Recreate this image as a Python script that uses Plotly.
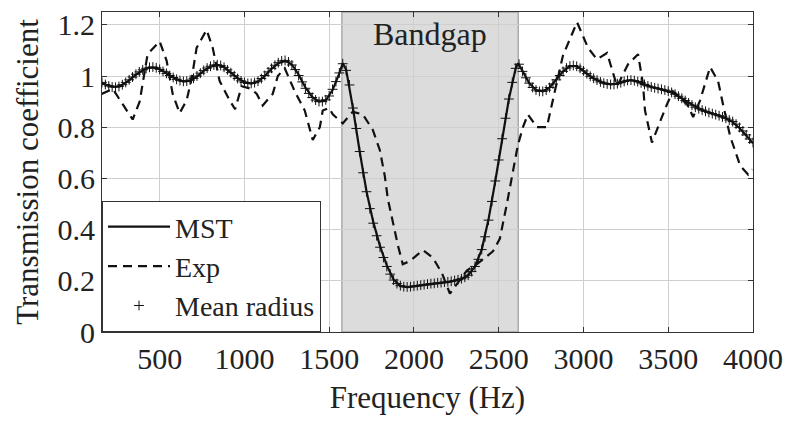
import plotly.graph_objects as go

# ---------------- data ----------------
freq_grid = [160, 200, 240, 280, 320, 360, 400, 440, 480, 520, 560, 600, 640, 680, 720,
             760, 800, 840, 880, 920, 960, 1000, 1040, 1080, 1120, 1160, 1200, 1240, 1280,
             1320, 1360, 1400, 1440, 1480, 1520, 1560, 1580, 1600, 1640, 1680, 1720, 1760,
             1800, 1840, 1880, 1920, 1960, 2000, 2040, 2080, 2120, 2160, 2200, 2240, 2280,
             2320, 2360, 2400, 2440, 2480, 2520, 2560, 2600, 2615, 2640, 2680, 2720, 2760,
             2800, 2840, 2880, 2920, 2960, 3000, 3040, 3080, 3120, 3160, 3200, 3240, 3280,
             3320, 3360, 3400, 3440, 3480, 3520, 3560, 3600, 3640, 3680, 3720, 3760, 3800,
             3840, 3880, 3920, 3960, 4000]

mst = [0.972, 0.962, 0.958, 0.965, 0.983, 1.005, 1.022, 1.033, 1.032, 1.020, 1.003, 0.988,
       0.978, 0.982, 0.998, 1.020, 1.036, 1.043, 1.035, 1.015, 0.992, 0.976, 0.970, 0.978,
       1.000, 1.028, 1.050, 1.060, 1.045, 1.005, 0.955, 0.918, 0.900, 0.905, 0.945, 1.010,
       1.050, 1.025, 0.875, 0.705, 0.550, 0.430, 0.335, 0.260, 0.205, 0.180, 0.175, 0.178,
       0.182, 0.186, 0.190, 0.192, 0.195, 0.200, 0.206, 0.222, 0.256, 0.322, 0.440, 0.590,
       0.757, 0.910, 1.030, 1.050, 1.020, 0.972, 0.945, 0.940, 0.955, 0.985, 1.018, 1.039,
       1.038, 1.020, 0.999, 0.984, 0.972, 0.967, 0.970, 0.979, 0.984, 0.978, 0.967, 0.957,
       0.951, 0.945, 0.936, 0.921, 0.904, 0.886, 0.872, 0.862, 0.853, 0.845, 0.835, 0.820,
       0.797, 0.768, 0.737]

radius_freq = [160, 180, 200, 220, 240, 260, 280, 300, 320, 340, 360, 380, 400, 420, 440,
               460, 480, 500, 520, 540, 560, 580, 600, 620, 640, 660, 680, 700, 720, 740,
               760, 780, 800, 820, 840, 860, 880, 900, 920, 940, 960, 980, 1000, 1020, 1040,
               1060, 1080, 1100, 1120, 1140, 1160, 1180, 1200, 1220, 1240, 1260, 1280, 1300,
               1320, 1340, 1360, 1380, 1400, 1420, 1440, 1460, 1480, 1500, 1520, 1540, 1560,
               1580, 1600, 1620, 1640, 1660, 1680, 1700, 1720, 1740, 1760, 1780, 1800, 1820,
               1840, 1860, 1880, 1900, 1920, 1940, 1960, 1980, 2000, 2020, 2040, 2060, 2080,
               2100, 2120, 2140, 2160, 2180, 2200, 2220, 2240, 2260, 2280, 2300, 2320, 2340,
               2360, 2380, 2400, 2420, 2440, 2460, 2480, 2500, 2520, 2540, 2560, 2580, 2600,
               2620, 2640, 2660, 2680, 2700, 2720, 2740, 2760, 2780, 2800, 2820, 2840, 2860,
               2880, 2900, 2920, 2940, 2960, 2980, 3000, 3020, 3040, 3060, 3080, 3100, 3120,
               3140, 3160, 3180, 3200, 3220, 3240, 3260, 3280, 3300, 3320, 3340, 3360, 3380,
               3400, 3420, 3440, 3460, 3480, 3500, 3520, 3540, 3560, 3580, 3600, 3620, 3640,
               3660, 3680, 3700, 3720, 3740, 3760, 3780, 3800, 3820, 3840, 3860, 3880, 3900,
               3920, 3940, 3960, 3980, 4000]

mean_radius = [0.975, 0.967, 0.961, 0.957, 0.956, 0.959, 0.966, 0.975, 0.985, 0.996, 1.007,
               1.016, 1.024, 1.030, 1.034, 1.035, 1.032, 1.026, 1.018, 1.010, 1.002, 0.994,
               0.987, 0.982, 0.979, 0.980, 0.984, 0.991, 1.000, 1.011, 1.022, 1.031, 1.038,
               1.043, 1.044, 1.041, 1.034, 1.024, 1.013, 1.001, 0.990, 0.981, 0.975, 0.971,
               0.971, 0.974, 0.980, 0.990, 1.002, 1.016, 1.030, 1.042, 1.052, 1.059, 1.061,
               1.055, 1.043, 1.025, 1.002, 0.977, 0.952, 0.932, 0.916, 0.906, 0.900, 0.900,
               0.907, 0.922, 0.948, 0.978, 1.012, 1.048, 1.022, 0.965, 0.875, 0.795, 0.705,
               0.622, 0.548, 0.482, 0.425, 0.376, 0.331, 0.291, 0.256, 0.226, 0.203, 0.189,
               0.181, 0.177, 0.176, 0.177, 0.179, 0.181, 0.183, 0.185, 0.187, 0.189, 0.190,
               0.192, 0.193, 0.195, 0.196, 0.198, 0.201, 0.204, 0.208, 0.214, 0.222, 0.236,
               0.256, 0.284, 0.322, 0.372, 0.437, 0.510, 0.590, 0.672, 0.755, 0.835, 0.910,
               0.975, 1.030, 1.046, 1.018, 0.993, 0.972, 0.955, 0.945, 0.940, 0.940, 0.945,
               0.955, 0.969, 0.985, 1.002, 1.018, 1.031, 1.039, 1.041, 1.038, 1.030, 1.020,
               1.009, 0.999, 0.991, 0.984, 0.977, 0.972, 0.969, 0.967, 0.967, 0.970, 0.974,
               0.979, 0.983, 0.984, 0.982, 0.978, 0.973, 0.967, 0.961, 0.957, 0.954, 0.951,
               0.948, 0.945, 0.941, 0.936, 0.929, 0.921, 0.913, 0.904, 0.895, 0.886, 0.878,
               0.872, 0.867, 0.862, 0.857, 0.853, 0.849, 0.845, 0.840, 0.835, 0.828, 0.822,
               0.812, 0.799, 0.785, 0.770, 0.754, 0.740]

exp_freq = [158, 223, 282, 341, 382, 400, 429, 500, 541, 577, 618, 659, 689, 718, 777, 813,
            854, 913, 945, 984, 1040, 1073, 1108, 1167, 1197, 1238, 1297, 1356, 1403, 1445,
            1462, 1500, 1521, 1580, 1639, 1698, 1757, 1799, 1828, 1846, 1875, 1905, 1934,
            1976, 2053, 2112, 2165, 2212, 2312, 2371, 2466, 2507, 2548, 2584, 2613, 2643,
            2672, 2725, 2784, 2814, 2879, 2962, 3027, 3080, 3139, 3198, 3263, 3322, 3351,
            3363, 3404, 3463, 3493, 3528, 3611, 3647, 3688, 3747, 3794, 3823, 3865, 3924,
            3971, 3995]

exp_vals = [0.93, 0.95, 0.89, 0.83, 0.90, 0.97, 1.085, 1.135, 1.06, 0.93, 0.855, 0.905,
            0.99, 1.11, 1.18, 1.11, 0.98, 0.905, 0.87, 0.96, 0.95, 0.93, 0.885, 0.93, 1.00,
            1.03, 0.94, 0.865, 0.75, 0.80, 0.865, 0.875, 0.85, 0.815, 0.86, 0.85, 0.79, 0.71,
            0.61, 0.52, 0.43, 0.34, 0.265, 0.277, 0.32, 0.29, 0.23, 0.15, 0.24, 0.265, 0.315,
            0.365, 0.50, 0.62, 0.73, 0.80, 0.85, 0.80, 0.80, 0.89, 1.08, 1.21, 1.11, 1.065,
            1.09, 0.96, 1.046, 1.085, 0.97, 0.865, 0.74, 0.84, 0.89, 0.94, 0.89, 0.84, 0.905,
            1.035, 0.98, 0.89, 0.765, 0.65, 0.615, 0.635]

bandgap_start = 1575
bandgap_end = 2615
bandgap_label = "Bandgap"

x_ticks = [500, 1000, 1500, 2000, 2500, 3000, 3500, 4000]
x_tick_labels = ["500", "1000", "1500", "2000", "2500", "3000", "3500", "4000"]
y_ticks = [0, 0.2, 0.4, 0.6, 0.8, 1.0, 1.2]
y_tick_labels = ["0", "0.2", "0.4", "0.6", "0.8", "1", "1.2"]

# ---------------- figure ----------------
FONT = "Liberation Serif"
INK = "#222222"

fig = go.Figure()

fig.add_trace(go.Scatter(
    x=freq_grid, y=mst, mode="lines", name="MST",
    line=dict(color="#111111", width=2.2),
))
fig.add_trace(go.Scatter(
    x=exp_freq, y=exp_vals, mode="lines", name="Exp",
    line=dict(color="#111111", width=2.2, dash="9px,6px"),
))
fig.add_trace(go.Scatter(
    x=radius_freq, y=mean_radius, mode="markers", name="Mean radius",
    marker=dict(symbol="cross-thin", size=7, color="#111111",
                line=dict(color="#111111", width=1)),
))

fig.add_shape(
    type="rect", xref="x", yref="paper",
    x0=bandgap_start, x1=bandgap_end, y0=0, y1=1,
    fillcolor="#dcdcdc", line=dict(color="#8a8a8a", width=1),
    layer="between",
)
fig.add_annotation(
    x=(bandgap_start + bandgap_end) / 2, y=1.165, xref="x", yref="y",
    text=bandgap_label, showarrow=False,
    font=dict(family=FONT, size=32, color=INK),
)

axis_common = dict(
    showline=True, mirror="allticks", linecolor="#333333", linewidth=1,
    ticks="inside", ticklen=5, tickcolor="#333333",
    showgrid=True, gridcolor="#cfcfcf", gridwidth=1,
    zeroline=False, ticklabeloverflow="allow",
    tickfont=dict(family=FONT, size=30, color=INK),
)

fig.update_xaxes(
    range=[160, 4000], tickvals=x_ticks, ticktext=x_tick_labels,
    title=dict(text="Frequency (Hz)", font=dict(family=FONT, size=31, color=INK), standoff=12),
    **axis_common,
)
fig.update_yaxes(
    range=[0, 1.25], tickvals=y_ticks, ticktext=y_tick_labels,
    title=dict(text="Transmission coefficient", font=dict(family=FONT, size=31, color=INK), standoff=9),
    **axis_common,
)

fig.update_layout(
    width=793, height=413,
    margin=dict(l=94, r=48, t=0, b=89),
    paper_bgcolor="white", plot_bgcolor="white",
    font=dict(family=FONT, size=30, color=INK),
    legend=dict(
        x=0, y=0, xanchor="left", yanchor="bottom",
        bgcolor="white", bordercolor="#333333", borderwidth=1,
        font=dict(family=FONT, size=28, color=INK),
        tracegroupgap=0, itemwidth=62,
    ),
    showlegend=True,
)

fig.write_html("out.html")
